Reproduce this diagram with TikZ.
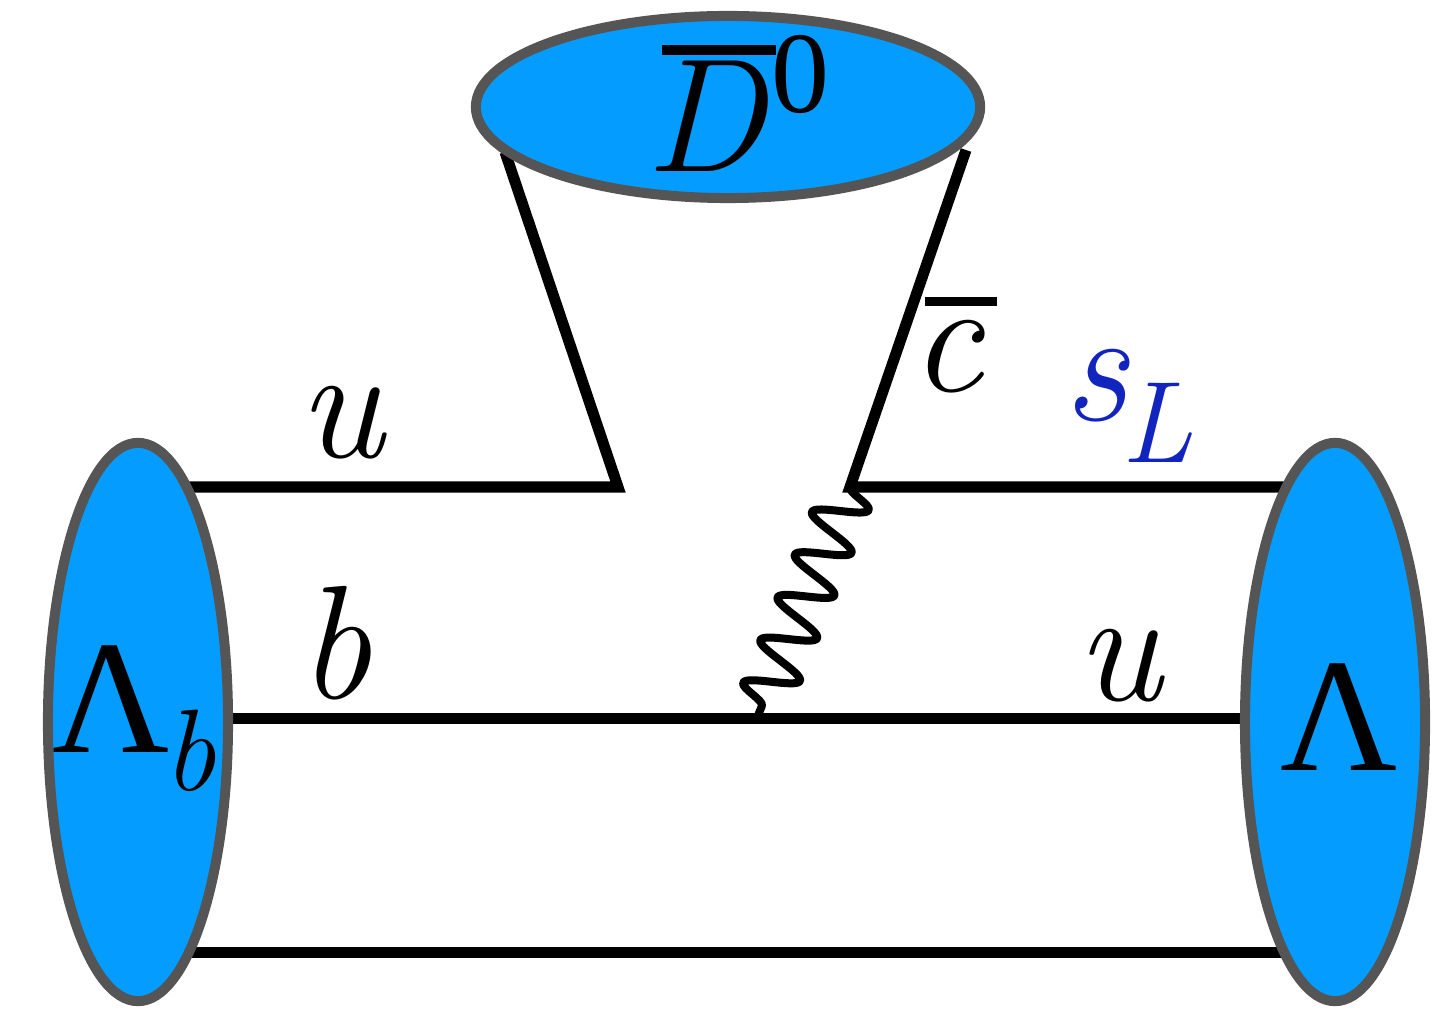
\documentclass[tikz,border=0pt]{standalone}
\usepackage{fontspec}
\newfontfamily\libfont{Liberation Serif}
\usetikzlibrary{shapes.geometric,decorations.pathmorphing,backgrounds}
\definecolor{hadron}{RGB}{4,157,255}
\definecolor{rim}{RGB}{85,85,85}
\definecolor{sblue}{RGB}{18,36,190}
\newcommand\bigf{\fontsize{46}{46}\selectfont}
\newcommand\smallf{\fontsize{33}{33}\selectfont}
\tikzset{
  hadronblob/.style={ellipse, draw=rim, fill=hadron, line width=10*0.01cm, inner sep=0pt},
  quark/.style={line width=0.11cm, black},
  boson/.style={line width=0.08cm, black, line cap=round, line join=round,
    decorate, decoration={snake, amplitude=0.26cm, segment length=0.46cm}},
  lbl/.style={anchor=base west, inner sep=0pt, outer sep=0pt, font=\bigf\itshape}
}
\begin{document}
\begin{tikzpicture}[x=0.01cm,y=-0.01cm]
\useasboundingbox (0,0) rectangle (1434,1010);
% hadrons
\node[hadronblob, minimum width=1.80cm, minimum height=5.58cm] (Lb) at (138,722) {};
\node[hadronblob, minimum width=1.80cm, minimum height=5.58cm] (La) at (1335,722) {};
\node[hadronblob, minimum width=5.04cm, minimum height=1.82cm] (D0) at (728,107) {};
% coordinates
\coordinate (uL) at (180,487);
\coordinate (bL) at (220,718);
\coordinate (sL) at (180,952);
\coordinate (v1) at (618,487);
\coordinate (dL) at (505,152);
\coordinate (v2) at (850,487);
\coordinate (dR) at (966,150);
\coordinate (uR) at (1295,487);
\coordinate (bR) at (1255,718);
\coordinate (sR) at (1290,952);
\coordinate (w) at (757,718);
\begin{scope}[on background layer]
\draw[quark, line join=miter] (uL) -- (v1) -- (dL);
\draw[quark, line join=miter] (dR) -- (v2) -- (uR);
\draw[quark] (bL) -- (bR);
\draw[quark] (sL) -- (sR);
\draw[boson] (v2) -- (w);
\end{scope}
% labels
\node[lbl] (lu) at (298,458) {u};
\node[lbl] (lb) at (298,698) {b};
\node[lbl] (ru) at (1076,700) {u};
\node[lbl] (lLb) at (52,752) {{\libfont\upshape Λ}\hspace{-0.06cm}\raisebox{-0.38cm}{\smallf b}};
\node[lbl] (lLa) at (1280,770) {\libfont\upshape Λ};
\node[lbl] (lc) at (910,392) {\makebox[0pt][l]{\hspace{0.15cm}\rule[0.86cm]{0.72cm}{0.09cm}}c};
\node[lbl, text=sblue] (ls) at (1063,421) {s\hspace{-0.06cm}\raisebox{-0.41cm}{\smallf L}};
\node[lbl] (lD) at (645,172) {\makebox[0pt][l]{\hspace{0.17cm}\rule[1.17cm]{1.14cm}{0.10cm}}D\hspace{0.07cm}\raisebox{0.59cm}{\smallf\libfont\upshape 0}};
\end{tikzpicture}
\end{document}
